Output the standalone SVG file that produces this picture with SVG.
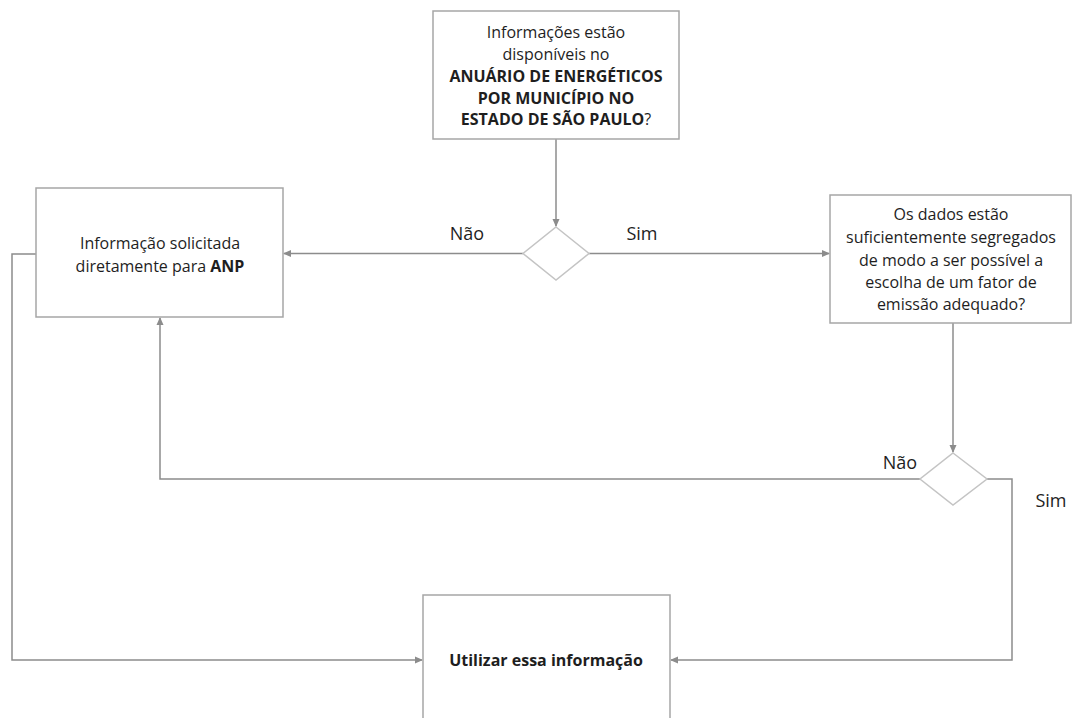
<svg xmlns="http://www.w3.org/2000/svg" width="1072" height="718" viewBox="0 0 1072 718">
<style>
.box{fill:#fff;stroke:#a6a6a6;stroke-width:1.5}
.dia{fill:#fff;stroke:#c4c4c4;stroke-width:1.5}
.con{fill:none;stroke:#8c8c8c;stroke-width:1.5}
text{font-family:"Open Sans","Liberation Sans",sans-serif;font-size:16px;fill:#1e1e1e;text-anchor:middle;dominant-baseline:central}
.b{font-weight:bold}
.lbl{font-size:18px}
</style>
<defs>
<marker id="arr" markerWidth="8" markerHeight="8" refX="7" refY="4" orient="auto" markerUnits="userSpaceOnUse">
<path d="M0,0.5 L8,4 L0,7.5 z" fill="#8c8c8c"/>
</marker>
</defs>
<rect width="1072" height="718" fill="#fff"/>
<g id="connectors">
<path class="con" d="M556,139 V226" marker-end="url(#arr)"/>
<path class="con" d="M523,253.5 H284" marker-end="url(#arr)"/>
<path class="con" d="M589,253.5 H829" marker-end="url(#arr)"/>
<path class="con" d="M953,323 V452" marker-end="url(#arr)"/>
<path class="con" d="M920,479 H160 V318" marker-end="url(#arr)"/>
<path class="con" d="M987,479 H1012 V660 H671" marker-end="url(#arr)"/>
<path class="con" d="M36,254 H12 V660 H422" marker-end="url(#arr)"/>
</g>
<g id="labels">
<text class="lbl" x="467" y="233">Não</text>
<text class="lbl" x="642" y="233">Sim</text>
<text class="lbl" x="900" y="462">Não</text>
<text class="lbl" x="1051" y="500">Sim</text>
</g>
<g id="n1">
<rect class="box" x="433" y="11" width="246" height="128"/>
<text x="556" y="32">Informações estão</text>
<text x="556" y="54">disponíveis no</text>
<text class="b" x="556" y="76">ANUÁRIO DE ENERGÉTICOS</text>
<text class="b" x="556" y="98">POR MUNICÍPIO NO</text>
<text x="556" y="119"><tspan class="b">ESTADO DE SÃO PAULO</tspan>?</text>
</g>
<g id="d1">
<polygon class="dia" points="556,227 589,253.5 556,280 523,253.5"/>
</g>
<g id="n2">
<rect class="box" x="36" y="188" width="247" height="129"/>
<text x="160" y="243">Informação solicitada</text>
<text x="160" y="266">diretamente para <tspan class="b">ANP</tspan></text>
</g>
<g id="n3">
<rect class="box" x="830" y="195" width="241" height="128"/>
<text x="951" y="214">Os dados estão</text>
<text x="951" y="237">suficientemente segregados</text>
<text x="951" y="260">de modo a ser possível a</text>
<text x="951" y="282">escolha de um fator de</text>
<text x="951" y="304">emissão adequado?</text>
</g>
<g id="d2">
<polygon class="dia" points="953,453 987,479 953,505 920,479"/>
</g>
<g id="n4">
<rect class="box" x="423" y="595" width="247" height="140"/>
<text class="b" x="546" y="660">Utilizar essa informação</text>
</g>
</svg>
